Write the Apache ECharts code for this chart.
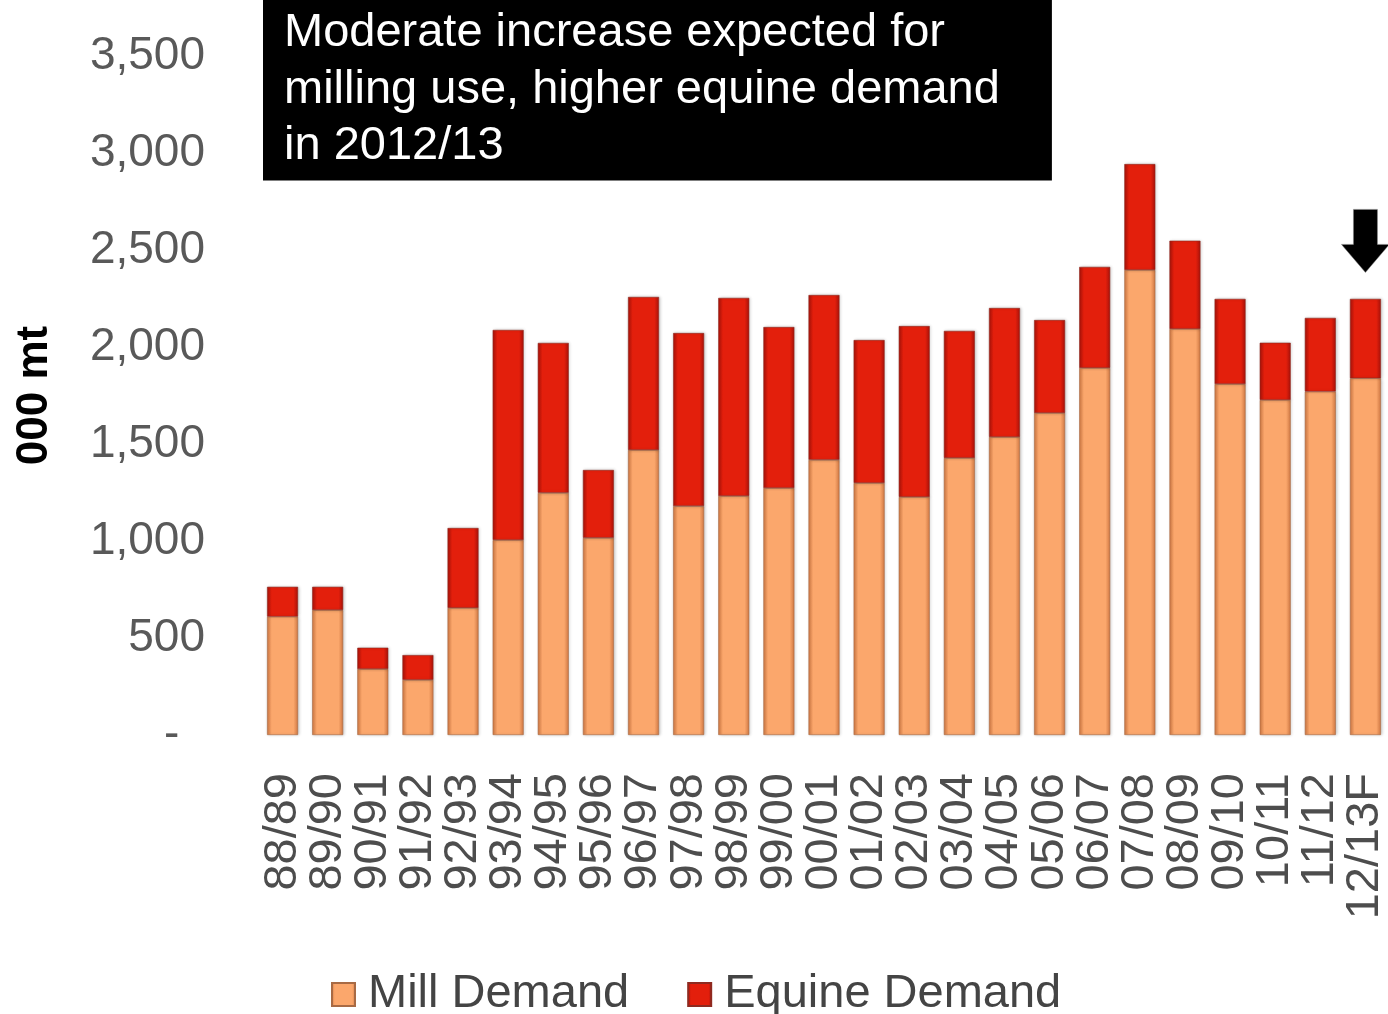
<!DOCTYPE html>
<html>
<head>
<meta charset="utf-8">
<script src="https://cdn.jsdelivr.net/npm/echarts@6/dist/echarts.min.js"></script>
<style>
  html, body { margin: 0; padding: 0; background: #fff; }
  #chart { width: 1388px; height: 1014px; }
</style>
</head>
<body>
<div id="chart"></div>
<script>
// crop years, 000 mt
var years = ['88/89', '89/90', '90/91', '91/92', '92/93', '93/94', '94/95', '95/96', '96/97', '97/98',
  '98/99', '99/00', '00/01', '01/02', '02/03', '03/04', '04/05', '05/06', '06/07', '07/08',
  '08/09', '09/10', '10/11', '11/12', '12/13F']
var millDemand = [610, 644, 340, 284, 655, 1005, 1248, 1016, 1469, 1180,
  1232, 1273, 1418, 1299, 1227, 1428, 1536, 1660, 1892, 2397,
  2093, 1809, 1727, 1770, 1839]
var equineDemand = [154, 120, 110, 128, 412, 1083, 773, 350, 789, 892,
  1021, 830, 850, 737, 881, 655, 665, 479, 521, 546,
  455, 439, 295, 380, 409]
var titleLines = ['Moderate increase expected for', 'milling use, higher equine demand', 'in 2012/13']

var font = 'Liberation Sans, Arial, sans-serif'
var chart = echarts.init(document.getElementById('chart'))

// fake the bevelled office bars with a sideways gradient
function bevel(edge, mid) {
  return new echarts.graphic.LinearGradient(0, 0, 1, 0, [
    { offset: 0, color: edge },
    { offset: 0.15, color: mid },
    { offset: 0.85, color: mid },
    { offset: 1, color: edge }
  ])
}

var last = years.length - 1

chart.setOption({
  animation: false,
  backgroundColor: '#fff',
  title: {
    text: titleLines.join('\n'),
    left: 263,
    top: 0,
    padding: [5, 52, 6, 21],
    backgroundColor: '#000',
    textStyle: {
      color: '#fff',
      fontFamily: font,
      fontWeight: 'normal',
      fontSize: 47,
      lineHeight: 56.5
    }
  },
  legend: {
    left: 326,
    top: 966,
    itemWidth: 23,
    itemHeight: 23,
    itemGap: 58,
    icon: 'rect',
    textStyle: { color: '#444', fontFamily: font, fontSize: 47, padding: [0, 0, 0, 8] },
    data: ['Mill Demand', 'Equine Demand']
  },
  grid: { left: 260, right: 0, top: 56, bottom: 279, outerBoundsMode: 'none' },
  xAxis: {
    type: 'category',
    data: years,
    axisLine: { show: false },
    axisTick: { show: false },
    axisLabel: {
      interval: 0,
      rotate: 90,
      margin: 38,
      color: '#4d4d4d',
      fontFamily: font,
      fontSize: 47
    }
  },
  yAxis: {
    type: 'value',
    min: 0,
    max: 3500,
    interval: 500,
    name: '000 mt',
    nameLocation: 'middle',
    nameRotate: 90,
    nameGap: 203,
    nameMoveOverlap: false,
    nameTextStyle: { color: '#000', fontFamily: font, fontWeight: 'bold', fontSize: 44 },
    splitLine: { show: false },
    axisLine: { show: false },
    axisTick: { show: false },
    axisLabel: {
      margin: 55,
      color: '#595959',
      fontFamily: font,
      fontSize: 46,
      formatter: function (v) {
        return v === 0 ? '-  ' : v.toLocaleString('en-US')
      }
    }
  },
  series: [
    {
      name: 'Mill Demand',
      type: 'bar',
      stack: 'total',
      barWidth: 31,
      data: millDemand,
      itemStyle: {
        color: bevel('#cf7843', '#fba76c'),
        borderColor: '#a86a44',
        borderWidth: 0.6,
        shadowColor: 'rgba(0,0,0,0.2)',
        shadowBlur: 3,
        shadowOffsetX: 1
      }
    },
    {
      name: 'Equine Demand',
      type: 'bar',
      stack: 'total',
      barWidth: 31,
      data: equineDemand,
      itemStyle: {
        color: bevel('#a8120a', '#e31f0c'),
        borderColor: '#8e2a20',
        borderWidth: 0.6,
        shadowColor: 'rgba(0,0,0,0.2)',
        shadowBlur: 3,
        shadowOffsetX: 1
      },
      markPoint: {
        silent: true,
        symbol: 'path://M12,0 L36,0 L36,35 L48,35 L24,63 L0,35 L12,35 Z',
        symbolSize: [48, 63],
        symbolOffset: [0, -58],
        itemStyle: { color: '#000', borderColor: '#888', borderWidth: 0.5 },
        label: { show: false },
        data: [{ coord: [years[last], millDemand[last] + equineDemand[last]] }]
      }
    }
  ]
})
</script>
</body>
</html>
